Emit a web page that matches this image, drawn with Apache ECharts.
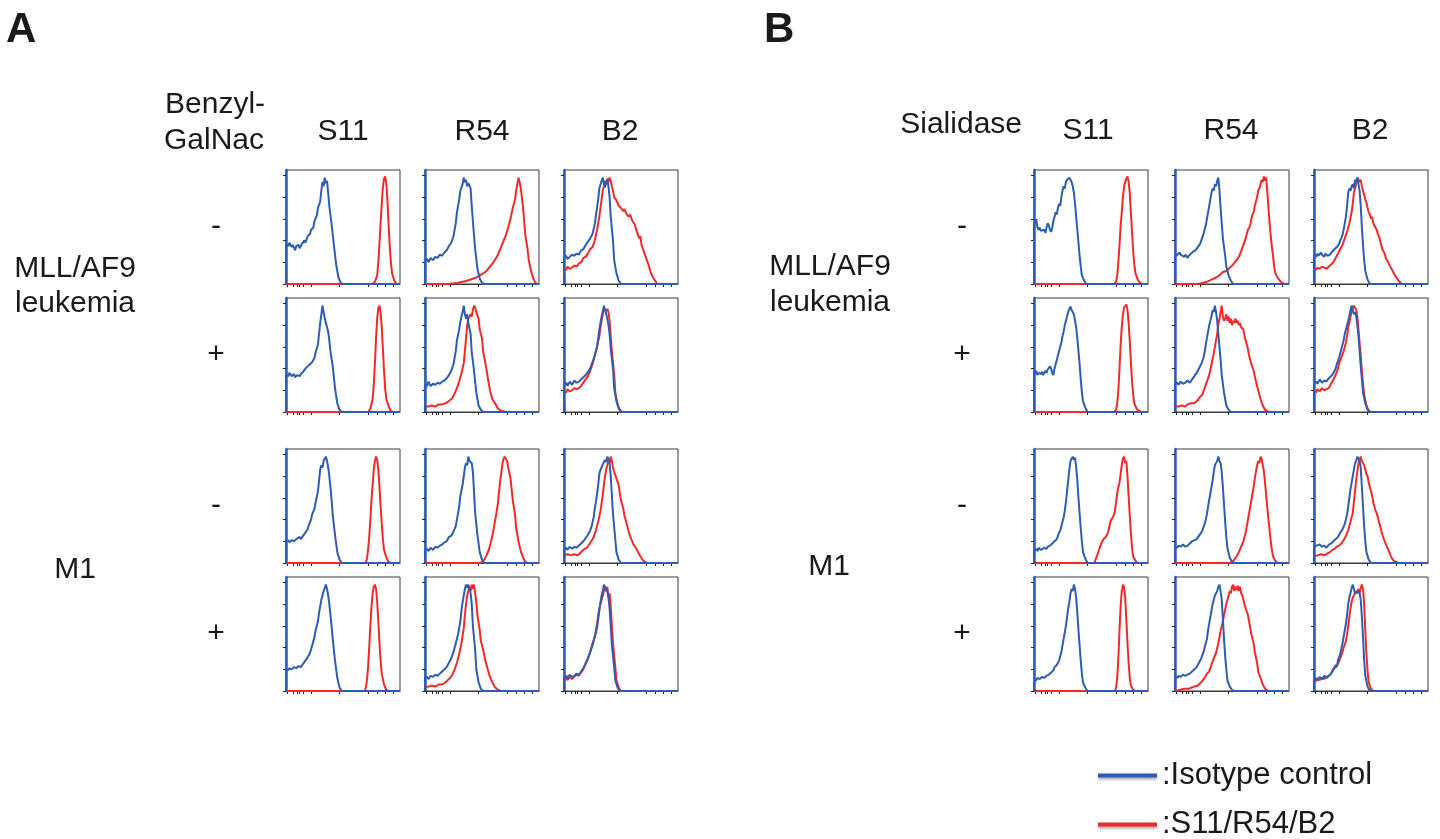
<!DOCTYPE html>
<html>
<head>
<meta charset="utf-8">
<title>Flow cytometry overlays</title>
<script src="https://cdn.jsdelivr.net/npm/echarts@6/dist/echarts.min.js"></script>
<style>
	html, body { margin: 0; padding: 0; background: #fff; }
	#main { width: 1440px; height: 839px; }
</style>
</head>
<body>
<div id="main"></div>
<script>
// column / row labels
var antibodies = ["S11", "R54", "B2"];
var cellLines = ["MLL/AF9\nleukemia", "M1"];
var treatSigns = ["-", "+", "-", "+"];
var seriesNames = ["Isotype control", "S11/R54/B2"];

// tick positions on the (biexponential) x axis, % of width
var xTickPos = [1.5, 6, 10, 11.5, 15, 22, 47, 72, 80, 87, 94];
var yTickPos = [0, 20, 40, 60, 80, 100];

// ---- panel A : Benzyl-GalNac ----
// MLL/AF9 leukemia, -
var a1_s11_iso = [[0,0],[0,36],[2,35],[3,38],[5,34],[6,36],[8,31],[9,35],[11,36],[12,33],[14,37],[16,40],[17,38],[19,44],[21,46],[22,50],[24,52],[25,58],[27,63],[28,70],[30,76],[31,86],[32,94],[33,90],[34,98],[35,93],[36,95],[37,84],[38,72],[40,55],[42,36],[44,18],[46,6],[48,1],[50,0],[100,0]];
var a1_s11_ab = [[0,0],[76,0],[78,2],[80,8],[81,20],[82,38],[83,56],[84,74],[85,89],[86,97],[87,99],[88,93],[89,76],[90,55],[91,35],[92,20],[93,10],[95,3],[97,0],[100,0]];
var a1_r54_iso = [[0,0],[0,22],[2,23],[3,20],[5,24],[7,22],[9,25],[11,24],[13,27],[15,26],[17,29],[19,31],[21,35],[23,38],[25,44],[27,56],[28,66],[30,78],[31,86],[33,92],[34,98],[35,94],[36,96],[37,90],[38,93],[40,88],[41,72],[42,58],[44,32],[46,14],[48,5],[50,1],[52,0],[100,0]];
var a1_r54_ab = [[0,0],[20,0],[28,1],[37,3],[45,6],[50,9],[54,12],[57,16],[60,20],[63,25],[66,32],[69,40],[71,45],[73,52],[75,60],[77,70],[79,78],[80,86],[81,92],[82,98],[83,94],[84,88],[85,80],[86,70],[87,58],[88,45],[90,32],[91,22],[93,12],[95,5],[97,1],[99,0],[100,0]];
var a1_b2_iso = [[0,0],[0,24],[2,26],[3,23],[5,25],[7,27],[9,26],[11,28],[13,27],[15,31],[17,32],[19,36],[21,39],[23,42],[25,46],[27,55],[28,63],[30,78],[31,88],[33,95],[34,98],[35,93],[36,89],[37,94],[38,96],[39,90],[40,80],[41,62],[43,40],[44,22],[46,10],[48,3],[50,0],[100,0]];
var a1_b2_ab = [[0,0],[0,14],[2,13],[3,16],[5,14],[7,15],[9,17],[11,16],[13,19],[15,20],[17,24],[19,25],[21,28],[23,32],[25,34],[27,40],[29,50],[31,62],[33,78],[34,86],[35,90],[36,95],[37,92],[38,97],[39,94],[40,98],[41,95],[42,90],[43,86],[44,80],[46,77],[48,72],[50,70],[52,67],[53,69],[55,64],[57,62],[58,64],[60,58],[62,55],[64,48],[66,42],[67,44],[68,36],[70,30],[72,24],[74,18],[76,11],[78,6],[80,3],[82,0],[100,0]];
// MLL/AF9 leukemia, +
var a2_s11_iso = [[0,0],[0,34],[2,33],[3,36],[5,33],[7,35],[8,32],[10,34],[12,33],[13,35],[15,37],[17,40],[19,42],[21,44],[23,46],[25,50],[26,55],[28,62],[29,72],[30,82],[31,90],[32,98],[33,92],[34,86],[35,82],[36,78],[37,74],[38,66],[39,56],[41,42],[43,22],[45,8],[47,2],[49,0],[100,0]];
var a2_s11_ab = [[0,0],[72,0],[74,3],[76,12],[77,25],[78,45],[79,68],[80,86],[81,96],[82,98],[83,92],[84,78],[85,58],[86,38],[87,22],[88,12],[90,5],[92,1],[94,0],[100,0]];
var a2_r54_iso = [[0,0],[0,25],[2,24],[3,28],[5,24],[7,26],[9,25],[11,27],[13,26],[15,28],[17,29],[19,31],[21,34],[23,38],[25,44],[27,56],[28,66],[30,76],[31,83],[32,88],[33,92],[34,98],[35,90],[36,86],[37,90],[38,82],[40,72],[41,55],[43,38],[45,18],[47,6],[49,2],[51,0],[100,0]];
var a2_r54_ab = [[0,0],[0,5],[3,5],[6,6],[9,5],[12,7],[15,7],[18,8],[21,10],[24,13],[26,17],[28,22],[30,28],[32,36],[34,45],[35,56],[36,68],[37,80],[38,86],[40,90],[41,88],[42,94],[43,98],[44,96],[45,92],[47,86],[48,76],[50,68],[51,56],[53,45],[55,32],[57,20],[59,12],[62,7],[64,3],[67,1],[72,0],[100,0]];
var a2_b2_iso = [[0,0],[0,25],[2,27],[3,24],[5,28],[7,25],[9,29],[11,27],[13,28],[15,30],[17,32],[19,34],[21,37],[23,40],[25,46],[27,52],[29,60],[30,68],[31,76],[32,82],[33,88],[34,92],[35,98],[36,94],[37,90],[38,86],[39,80],[40,72],[41,58],[43,40],[44,22],[46,10],[48,3],[50,0],[100,0]];
var a2_b2_ab = [[0,0],[0,19],[2,18],[3,21],[5,19],[7,20],[9,22],[11,21],[13,22],[15,24],[17,27],[19,30],[21,33],[23,38],[25,44],[27,52],[29,60],[31,70],[32,78],[33,84],[34,90],[35,95],[36,96],[37,93],[38,95],[39,92],[40,84],[41,70],[42,55],[44,35],[45,18],[47,7],[49,2],[51,0],[100,0]];
// M1, -
var a3_s11_iso = [[0,0],[0,20],[2,21],[3,19],[5,21],[7,20],[9,22],[10,21],[12,24],[13,22],[15,25],[17,28],[19,31],[20,35],[22,40],[23,45],[25,50],[26,56],[28,66],[29,76],[30,86],[31,90],[32,88],[33,94],[34,96],[35,98],[36,94],[37,88],[38,80],[39,70],[40,58],[41,44],[43,26],[45,10],[47,3],[49,0],[100,0]];
var a3_s11_ab = [[0,0],[70,0],[71,4],[72,12],[73,24],[74,40],[75,58],[76,72],[77,86],[78,94],[79,98],[80,95],[81,86],[82,70],[83,52],[84,36],[85,22],[86,12],[88,5],[90,1],[92,0],[100,0]];
var a3_r54_iso = [[0,0],[0,12],[2,13],[3,11],[5,14],[7,12],[9,15],[11,14],[13,16],[15,17],[17,19],[19,20],[21,24],[23,25],[25,29],[27,34],[28,40],[30,52],[31,62],[33,72],[34,80],[35,88],[36,92],[37,90],[38,98],[39,94],[40,95],[41,92],[42,84],[43,66],[44,46],[46,26],[48,10],[50,3],[52,0],[100,0]];
var a3_r54_ab = [[0,0],[48,0],[50,1],[52,3],[54,7],[56,12],[58,20],[60,30],[62,42],[64,55],[65,66],[66,76],[67,84],[68,92],[69,96],[70,98],[71,97],[72,94],[73,88],[75,78],[76,68],[77,58],[79,44],[80,32],[82,20],[84,11],[86,5],[88,1],[90,0],[100,0]];
var a3_b2_iso = [[0,0],[0,12],[2,14],[3,12],[5,15],[7,13],[9,15],[11,14],[13,16],[15,18],[17,20],[19,23],[21,26],[23,30],[24,33],[26,42],[27,50],[28,56],[29,64],[30,72],[31,82],[32,86],[33,88],[34,91],[35,90],[36,95],[37,93],[38,98],[39,96],[40,92],[41,80],[42,62],[43,45],[45,22],[46,10],[48,3],[50,0],[100,0]];
var a3_b2_ab = [[0,0],[0,7],[3,8],[6,7],[9,8],[12,7],[14,9],[16,11],[18,13],[20,14],[22,17],[24,20],[26,24],[28,30],[30,38],[32,48],[34,62],[35,72],[36,80],[37,86],[38,90],[39,95],[40,92],[41,98],[42,94],[43,88],[44,84],[46,78],[48,72],[49,64],[50,58],[52,50],[53,44],[55,36],[57,28],[59,22],[61,17],[63,14],[65,10],[67,6],[69,3],[71,1],[73,0],[100,0]];
// M1, +
var a4_s11_iso = [[0,0],[0,20],[2,19],[3,21],[5,20],[7,22],[9,21],[11,23],[13,22],[15,25],[17,28],[19,31],[21,35],[23,42],[25,50],[26,56],[28,64],[29,72],[30,78],[31,84],[32,88],[33,92],[34,95],[35,98],[36,94],[37,88],[38,80],[39,70],[40,60],[41,48],[43,28],[45,12],[47,3],[49,0],[100,0]];
var a4_s11_ab = [[0,0],[69,0],[70,3],[71,10],[72,22],[73,40],[74,60],[75,78],[76,90],[77,96],[78,98],[79,94],[80,82],[81,64],[82,44],[83,28],[84,16],[86,6],[88,1],[90,0],[100,0]];
var a4_r54_iso = [[0,0],[0,12],[2,13],[3,11],[5,14],[7,13],[9,15],[11,14],[13,16],[15,18],[17,20],[19,22],[21,26],[23,30],[25,36],[27,44],[29,52],[31,64],[32,74],[33,82],[34,88],[35,94],[36,98],[37,95],[38,98],[39,94],[40,90],[41,80],[42,60],[44,38],[45,20],[47,8],[49,2],[51,0],[100,0]];
var a4_r54_ab = [[0,0],[0,4],[3,4],[6,5],[9,4],[12,6],[15,6],[18,8],[20,10],[22,12],[24,15],[26,20],[28,26],[30,34],[32,44],[34,58],[35,70],[36,80],[37,88],[38,92],[39,96],[40,92],[41,98],[42,94],[43,98],[44,90],[45,82],[46,70],[48,56],[49,46],[51,38],[53,28],[55,20],[57,13],[59,8],[61,4],[64,1],[67,0],[100,0]];
var a4_b2_iso = [[0,0],[0,12],[2,14],[3,12],[5,15],[7,13],[9,14],[11,16],[13,15],[15,18],[17,21],[19,25],[21,30],[23,36],[25,42],[27,50],[29,58],[30,66],[31,74],[32,82],[33,88],[34,92],[35,98],[36,96],[37,94],[38,92],[39,86],[40,76],[41,60],[42,42],[44,22],[45,10],[47,3],[49,0],[100,0]];
var a4_b2_ab = [[0,0],[0,10],[2,12],[3,10],[5,13],[7,11],[9,13],[11,15],[13,14],[15,17],[17,20],[19,26],[21,30],[23,36],[24,40],[25,44],[27,50],[28,56],[29,62],[30,70],[31,76],[32,80],[33,84],[34,88],[35,92],[36,95],[37,92],[38,96],[39,86],[40,90],[41,78],[42,60],[43,44],[45,22],[46,10],[48,3],[50,0],[100,0]];

// ---- panel B : Sialidase ----
// MLL/AF9 leukemia, -
var b1_s11_iso = [[0,0],[0,54],[1,58],[2,60],[3,52],[4,50],[5,52],[6,49],[7,48],[9,50],[10,47],[11,52],[12,56],[13,54],[14,50],[15,48],[16,52],[17,58],[18,62],[19,66],[20,64],[21,70],[22,74],[23,72],[24,80],[25,86],[26,90],[27,88],[28,94],[29,96],[30,95],[31,98],[32,96],[33,94],[34,90],[35,84],[36,74],[37,62],[38,50],[39,38],[40,26],[41,16],[42,8],[44,3],[46,0],[100,0]];
var b1_s11_ab = [[0,0],[70,0],[72,2],[73,8],[74,20],[75,36],[76,54],[77,66],[78,80],[79,90],[80,94],[81,97],[82,99],[83,94],[84,84],[85,66],[86,48],[87,30],[88,18],[89,10],[91,4],[93,1],[95,0],[100,0]];
var b1_r54_iso = [[0,0],[0,25],[2,27],[3,26],[4,29],[5,27],[6,28],[8,25],[9,27],[11,24],[12,26],[14,28],[16,30],[18,31],[20,34],[22,37],[23,40],[25,46],[26,50],[27,54],[28,60],[29,66],[30,72],[31,78],[32,84],[33,88],[34,86],[35,92],[36,90],[37,95],[38,98],[39,86],[40,70],[41,56],[42,42],[44,26],[45,16],[47,8],[49,3],[51,0],[100,0]];
var b1_r54_ab = [[0,0],[20,0],[24,1],[28,2],[32,4],[36,6],[39,8],[42,11],[45,12],[48,15],[51,18],[54,22],[56,25],[58,30],[60,36],[62,42],[63,46],[64,50],[66,54],[67,60],[68,64],[69,66],[70,72],[71,76],[72,80],[73,86],[74,88],[75,92],[76,96],[77,94],[78,99],[79,95],[80,98],[81,84],[82,70],[83,56],[84,44],[85,34],[86,26],[87,16],[88,10],[90,6],[92,3],[94,1],[96,0],[100,0]];
var b1_b2_iso = [[0,0],[0,27],[2,25],[3,28],[4,26],[6,29],[7,27],[9,25],[10,28],[12,26],[14,27],[16,30],[18,32],[20,34],[22,37],[23,40],[25,45],[26,50],[27,56],[28,62],[29,72],[30,84],[31,88],[32,86],[33,90],[34,92],[35,88],[36,96],[37,94],[38,98],[39,92],[40,86],[41,72],[42,52],[43,36],[44,22],[45,12],[47,4],[49,0],[100,0]];
var b1_b2_ab = [[0,0],[0,14],[2,13],[3,15],[5,14],[7,16],[9,15],[11,14],[13,16],[15,18],[17,20],[19,24],[21,28],[23,32],[25,36],[27,42],[29,48],[31,56],[33,66],[34,74],[35,84],[36,88],[37,92],[38,98],[39,96],[40,94],[41,96],[42,90],[43,86],[44,82],[45,78],[46,75],[47,70],[48,66],[49,64],[50,60],[51,62],[52,56],[53,54],[54,52],[55,50],[56,46],[57,44],[58,40],[59,36],[60,32],[62,28],[63,24],[65,20],[67,16],[69,12],[71,8],[73,5],[75,2],[77,0],[100,0]];
// MLL/AF9 leukemia, +
var b2_s11_iso = [[0,0],[0,37],[1,35],[2,38],[3,34],[4,36],[6,35],[7,37],[8,34],[10,38],[11,36],[12,39],[14,42],[15,40],[16,36],[17,34],[18,40],[19,44],[20,48],[21,52],[22,56],[23,60],[24,64],[25,70],[26,74],[27,80],[28,84],[29,88],[30,92],[31,95],[32,97],[33,94],[34,92],[35,90],[36,84],[37,78],[38,68],[39,56],[40,44],[41,30],[42,18],[43,10],[45,4],[47,0],[100,0]];
var b2_s11_ab = [[0,0],[70,0],[72,2],[73,8],[74,20],[75,40],[76,62],[77,78],[78,90],[79,96],[80,97],[81,99],[82,94],[83,82],[84,66],[85,46],[86,28],[87,16],[88,8],[90,3],[92,1],[94,0],[100,0]];
var b2_r54_iso = [[0,0],[0,26],[2,27],[3,25],[5,28],[7,26],[9,27],[11,29],[13,27],[15,30],[17,33],[19,36],[21,40],[23,44],[25,50],[26,55],[27,62],[28,68],[29,74],[30,80],[31,84],[32,88],[33,94],[34,92],[35,98],[36,92],[37,84],[38,72],[39,60],[40,48],[41,34],[43,18],[45,6],[47,2],[49,0],[100,0]];
var b2_r54_ab = [[0,0],[0,5],[3,5],[6,6],[9,5],[11,7],[14,8],[17,8],[20,11],[22,14],[24,16],[26,22],[28,28],[30,34],[32,44],[34,54],[35,60],[37,72],[38,80],[39,86],[40,92],[41,98],[42,88],[43,84],[44,86],[45,90],[46,84],[47,88],[48,82],[49,86],[50,80],[51,84],[52,82],[53,86],[54,82],[55,84],[56,80],[57,82],[58,78],[60,76],[61,70],[62,66],[64,58],[65,52],[67,44],[69,38],[71,28],[73,20],[75,12],[77,6],[79,2],[82,0],[100,0]];
var b2_b2_iso = [[0,0],[0,27],[2,28],[3,26],[5,30],[7,27],[9,29],[11,28],[12,30],[14,32],[16,34],[17,36],[19,40],[20,44],[22,50],[23,54],[24,58],[25,62],[26,66],[27,72],[28,76],[29,80],[30,84],[31,88],[32,94],[33,98],[34,94],[35,90],[36,92],[37,88],[38,80],[39,70],[40,56],[41,42],[42,30],[43,18],[45,8],[47,2],[49,0],[100,0]];
var b2_b2_ab = [[0,0],[0,19],[2,18],[3,21],[5,19],[7,22],[9,20],[11,21],[13,22],[15,26],[17,30],[19,34],[21,40],[22,45],[24,50],[26,56],[27,60],[28,64],[29,70],[30,78],[31,82],[32,88],[33,92],[34,96],[35,98],[36,96],[37,94],[38,88],[39,76],[40,64],[41,52],[42,38],[43,26],[44,16],[46,6],[48,1],[50,0],[100,0]];
// M1, -
var b3_s11_iso = [[0,0],[0,11],[1,10],[2,13],[3,11],[4,14],[6,12],[7,13],[9,14],[11,13],[12,15],[14,16],[16,18],[18,20],[20,22],[21,25],[22,28],[23,30],[24,34],[25,38],[26,42],[27,48],[28,56],[29,66],[30,76],[31,86],[32,94],[33,96],[34,98],[35,95],[36,97],[37,88],[38,76],[39,60],[40,46],[41,32],[42,20],[43,10],[45,4],[47,0],[100,0]];
var b3_s11_ab = [[0,0],[53,0],[54,3],[55,6],[56,9],[57,12],[58,15],[59,18],[60,20],[61,22],[62,21],[63,24],[64,26],[65,28],[66,33],[67,38],[68,40],[69,42],[70,44],[71,48],[72,56],[73,64],[74,70],[75,74],[76,82],[77,90],[78,96],[79,98],[80,92],[81,94],[82,80],[83,62],[84,44],[85,28],[86,14],[87,6],[89,2],[91,0],[100,0]];
var b3_r54_iso = [[0,0],[0,15],[2,14],[3,16],[5,15],[7,17],[9,15],[11,16],[13,18],[15,20],[17,21],[19,22],[21,25],[23,28],[24,30],[26,36],[27,40],[28,45],[29,52],[30,58],[31,64],[32,70],[33,76],[34,84],[35,90],[36,92],[37,94],[38,98],[39,94],[40,92],[41,84],[42,70],[43,54],[44,38],[45,24],[46,14],[48,5],[50,1],[52,0],[100,0]];
var b3_r54_ab = [[0,0],[48,0],[50,1],[52,3],[54,6],[56,10],[58,15],[60,20],[62,28],[63,34],[64,40],[65,46],[66,52],[67,58],[68,64],[69,70],[70,78],[71,84],[72,90],[73,94],[74,92],[75,98],[76,96],[77,90],[78,84],[79,74],[80,62],[81,50],[82,40],[83,30],[84,20],[85,12],[86,6],[88,2],[90,0],[100,0]];
var b3_b2_iso = [[0,0],[0,14],[2,16],[3,15],[5,17],[7,15],[9,16],[11,14],[13,17],[15,18],[17,20],[19,22],[21,24],[23,28],[25,31],[27,36],[28,40],[29,45],[30,52],[31,60],[32,68],[33,74],[34,80],[35,86],[36,92],[37,94],[38,98],[39,96],[40,94],[41,88],[42,70],[43,52],[44,34],[45,20],[46,10],[48,3],[50,0],[100,0]];
var b3_b2_ab = [[0,0],[0,6],[3,7],[6,8],[9,7],[12,9],[14,10],[16,12],[18,13],[20,15],[22,16],[24,18],[26,21],[28,25],[30,30],[32,38],[34,46],[35,56],[36,66],[37,76],[38,84],[39,92],[40,95],[41,98],[42,94],[43,92],[44,90],[45,86],[46,82],[47,80],[48,74],[49,70],[50,66],[51,62],[52,56],[53,52],[54,48],[55,46],[56,42],[57,38],[58,34],[59,30],[60,26],[62,20],[64,15],[66,10],[68,5],[70,2],[72,1],[74,0],[100,0]];
// M1, +
var b4_s11_iso = [[0,0],[0,10],[1,11],[2,10],[3,12],[5,11],[7,13],[9,12],[11,14],[13,15],[15,17],[17,19],[18,22],[20,24],[22,28],[23,32],[24,36],[25,42],[26,48],[27,54],[28,60],[29,68],[30,76],[31,82],[32,90],[33,94],[34,92],[35,98],[36,94],[37,86],[38,72],[39,56],[40,42],[41,28],[42,16],[43,8],[45,3],[47,0],[100,0]];
var b4_s11_ab = [[0,0],[71,0],[72,3],[73,12],[74,30],[75,56],[76,78],[77,92],[78,98],[79,96],[80,86],[81,66],[82,44],[83,26],[84,12],[85,5],[87,1],[89,0],[100,0]];
var b4_r54_iso = [[0,0],[0,13],[2,12],[3,14],[5,13],[7,15],[9,14],[11,15],[13,16],[15,18],[17,20],[19,22],[21,26],[23,30],[25,36],[26,40],[27,44],[28,48],[29,56],[30,62],[31,68],[32,74],[33,80],[34,84],[35,88],[36,90],[37,92],[38,96],[39,98],[40,92],[41,84],[42,66],[43,48],[44,32],[45,20],[46,10],[48,4],[50,1],[52,0],[100,0]];
var b4_r54_ab = [[0,0],[0,1],[4,1],[8,2],[12,2],[14,3],[17,4],[20,5],[23,8],[26,12],[28,16],[30,18],[32,24],[34,30],[36,35],[38,44],[40,55],[42,64],[43,70],[44,75],[45,80],[46,84],[47,88],[48,92],[49,90],[50,96],[51,98],[52,92],[53,96],[54,93],[55,97],[56,92],[57,96],[58,90],[59,88],[60,84],[61,80],[62,76],[64,70],[65,64],[66,58],[67,52],[69,44],[70,36],[72,26],[73,18],[75,12],[77,6],[79,2],[82,0],[100,0]];
var b4_b2_iso = [[0,0],[0,10],[2,12],[3,10],[5,13],[7,11],[9,14],[11,12],[13,14],[15,16],[17,20],[19,24],[20,22],[21,28],[23,34],[25,44],[26,50],[27,56],[28,62],[29,70],[30,80],[31,86],[32,90],[33,95],[34,98],[35,94],[36,90],[37,92],[38,90],[39,92],[40,90],[41,84],[42,68],[43,50],[44,28],[45,14],[47,4],[49,0],[100,0]];
var b4_b2_ab = [[0,0],[0,11],[2,9],[3,11],[5,10],[7,12],[9,11],[11,13],[13,14],[15,16],[17,20],[19,22],[21,25],[23,30],[25,36],[26,40],[28,46],[29,52],[30,60],[31,68],[32,76],[33,82],[34,86],[35,88],[36,90],[37,91],[38,92],[39,94],[40,90],[41,95],[42,98],[43,94],[44,80],[45,56],[46,34],[47,18],[48,8],[50,2],[52,0],[100,0]];

// rows x cols, each cell [isotype, antibody]
var panelA = [
	[[a1_s11_iso, a1_s11_ab], [a1_r54_iso, a1_r54_ab], [a1_b2_iso, a1_b2_ab]],
	[[a2_s11_iso, a2_s11_ab], [a2_r54_iso, a2_r54_ab], [a2_b2_iso, a2_b2_ab]],
	[[a3_s11_iso, a3_s11_ab], [a3_r54_iso, a3_r54_ab], [a3_b2_iso, a3_b2_ab]],
	[[a4_s11_iso, a4_s11_ab], [a4_r54_iso, a4_r54_ab], [a4_b2_iso, a4_b2_ab]]
];
var panelB = [
	[[b1_s11_iso, b1_s11_ab], [b1_r54_iso, b1_r54_ab], [b1_b2_iso, b1_b2_ab]],
	[[b2_s11_iso, b2_s11_ab], [b2_r54_iso, b2_r54_ab], [b2_b2_iso, b2_b2_ab]],
	[[b3_s11_iso, b3_s11_ab], [b3_r54_iso, b3_r54_ab], [b3_b2_iso, b3_b2_ab]],
	[[b4_s11_iso, b4_s11_ab], [b4_r54_iso, b4_r54_ab], [b4_b2_iso, b4_b2_ab]]
];

var BLUE = "#2d5db3",
	RED = "#f02a28",
	FRAME = "#3a3a3a",
	FONT = '"Liberation Sans", Arial, Helvetica, sans-serif';

// layout (px)
var boxW = 114, boxH = 114;
var rowTop = [170, 298, 449, 577];
var panels = [
	{ cells: panelA, colLeft: [286, 425, 564] },
	{ cells: panelB, colLeft: [1034, 1175, 1314] }
];

var grids = [], xAxes = [], yAxes = [], series = [];

panels.forEach(function(p) {
	p.cells.forEach(function(row, r) {
		row.forEach(function(cell, c) {
			var i = grids.length;
			grids.push({
				left: p.colLeft[c], top: rowTop[r], width: boxW, height: boxH,
				show: true, borderColor: FRAME, borderWidth: 1, backgroundColor: "#fff"
			});
			xAxes.push({
				gridIndex: i, type: "value", min: 0, max: 100,
				axisLine: { show: true, onZero: false, lineStyle: { color: FRAME, width: 1 } },
				axisTick: { show: true, length: 3, inside: false, customValues: xTickPos, lineStyle: { color: "#222", width: 1 } },
				axisLabel: { show: false },
				splitLine: { show: false }
			});
			yAxes.push({
				gridIndex: i, type: "value", min: 0, max: 105,
				axisLine: { show: true, lineStyle: { color: BLUE, width: 2.5 } },
				axisTick: { show: true, length: 3, inside: false, customValues: yTickPos, lineStyle: { color: "#222", width: 1 } },
				axisLabel: { show: false },
				splitLine: { show: false }
			});
			// antibody first so the isotype sits on top along the baseline
			series.push({
				name: seriesNames[1], type: "line", xAxisIndex: i, yAxisIndex: i,
				data: cell[1], showSymbol: false, symbol: "none", silent: true,
				lineStyle: { color: RED, width: 2 }, itemStyle: { color: RED }
			});
			series.push({
				name: seriesNames[0], type: "line", xAxisIndex: i, yAxisIndex: i,
				data: cell[0], showSymbol: false, symbol: "none", silent: true,
				lineStyle: { color: BLUE, width: 2 }, itemStyle: { color: BLUE }
			});
		});
	});
});

// text labels
var graphics = [];
function txt(s, x, y, size, align, weight) {
	graphics.push({
		type: "text", x: x, y: y, silent: true,
		style: {
			text: s, fill: "#1a1a1a",
			font: (weight || "normal") + " " + size + "px " + FONT,
			textAlign: align || "left", textVerticalAlign: "middle"
		}
	});
}
txt("A", 6, 30, 42, "left", "bold");
txt("B", 764, 30, 42, "left", "bold");
txt("Benzyl-", 165, 105, 30);
txt("GalNac", 164, 141, 30);
txt("Sialidase", 1022, 125, 30, "right");
var headA = [343, 482, 620], headB = [1088, 1231, 1370];
antibodies.forEach(function(a, k) {
	txt(a, headA[k], 132, 30, "center");
	txt(a, headB[k], 131, 30, "center");
});
var rowMid = rowTop.map(function(t) { return t + boxH / 2; });
treatSigns.forEach(function(s, k) {
	txt(s, 216, rowMid[k], 30, "center");
	txt(s, 962, rowMid[k], 30, "center");
});
var mll = cellLines[0].split("\n");
txt(mll[0], 75, 269, 30, "center");
txt(mll[1], 75, 304, 30, "center");
txt(cellLines[1], 75, 570, 30, "center");
txt(mll[0], 830, 267, 30, "center");
txt(mll[1], 830, 303, 30, "center");
txt(cellLines[1], 829, 567, 30, "center");

// one legend per entry so they stack exactly
function legendFor(name, top) {
	return {
		data: [name], left: 1098, top: top,
		padding: 0, itemWidth: 59, itemHeight: 4,
		icon: "rect", selectedMode: false,
		formatter: ":{name}",
		itemStyle: { shadowBlur: 3, shadowColor: "rgba(0,0,0,0.35)", shadowOffsetY: 2 },
		textStyle: { fontSize: 31, color: "#1a1a1a", fontFamily: FONT }
	};
}

var chart = echarts.init(document.getElementById("main"));
chart.setOption({
	animation: false,
	backgroundColor: "#fff",
	grid: grids,
	xAxis: xAxes,
	yAxis: yAxes,
	series: series,
	legend: [legendFor(seriesNames[0], 760), legendFor(seriesNames[1], 809)],
	graphic: graphics
});
</script>
</body>
</html>
